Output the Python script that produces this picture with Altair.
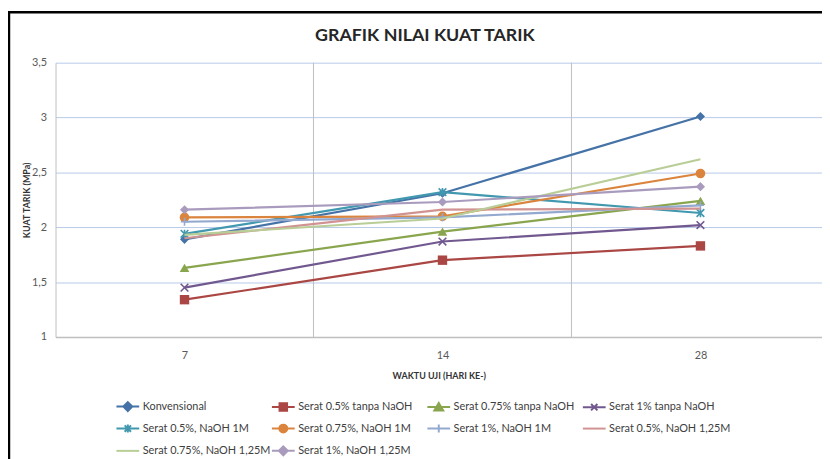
import json
import altair as alt
import pandas as pd

# ---------------- data ----------------
categories = ["7", "14", "28"]

series_names = [
    "Konvensional",
    "Serat 0.5% tanpa NaOH",
    "Serat 0.75% tanpa NaOH",
    "Serat 1% tanpa NaOH",
    "Serat 0.5%, NaOH 1M",
    "Serat 0.75%, NaOH 1M",
    "Serat 1%, NaOH 1M",
    "Serat 0.5%, NaOH 1,25M",
    "Serat 0.75%, NaOH 1,25M",
    "Serat 1%, NaOH 1,25M",
]

konvensional = [1.89, 2.31, 3.01]
serat_05_tanpa = [1.34, 1.70, 1.83]
serat_075_tanpa = [1.63, 1.96, 2.24]
serat_1_tanpa = [1.45, 1.87, 2.02]
serat_05_1m = [1.94, 2.32, 2.13]
serat_075_1m = [2.09, 2.10, 2.49]
serat_1_1m = [2.05, 2.09, 2.20]
serat_05_125m = [1.90, 2.16, 2.17]
serat_075_125m = [1.93, 2.08, 2.62]
serat_1_125m = [2.16, 2.23, 2.37]

series_values = [
    konvensional, serat_05_tanpa, serat_075_tanpa, serat_1_tanpa,
    serat_05_1m, serat_075_1m, serat_1_1m,
    serat_05_125m, serat_075_125m, serat_1_125m,
]

y_ticks = [1, 1.5, 2, 2.5, 3, 3.5]

# ---------------- styles ----------------
colors = ["#4572A7", "#AA4643", "#89A54E", "#71588F", "#4198AF",
          "#DB843D", "#93A9CF", "#D19392", "#B9CD96", "#A99BBD"]

X_PATH = "M-1,-1L1,1M-1,1L1,-1"
STAR_PATH = "M-1,-1L1,1M-1,1L1,-1M0,-1.1V1.1"
PLUS_PATH = "M-1,0H1M0,-1.1V1.1"

# (shape, filled, size) for the markers in the plot; None = no marker
markers = [
    ("diamond", True, 85),
    ("square", True, 90),
    ("triangle-up", True, 95),
    (X_PATH, False, 60),
    (STAR_PATH, False, 60),
    ("circle", True, 95),
    (PLUS_PATH, False, 55),
    None,
    None,
    ("diamond", True, 85),
]

LINE = "M-1.15,0H1.15"
legend_paths = [
    LINE + "M0,-0.45L0.45,0L0,0.45L-0.45,0Z",
    LINE + "M-0.38,-0.38H0.38V0.38H-0.38Z",
    LINE + "M0,-0.42L0.45,0.35L-0.45,0.35Z",
    LINE + "M-0.32,-0.32L0.32,0.32M-0.32,0.32L0.32,-0.32",
    LINE + "M-0.32,-0.32L0.32,0.32M-0.32,0.32L0.32,-0.32M0,-0.4V0.4",
    LINE + "M0.4,0A0.4,0.4 0 1,1 -0.4,0A0.4,0.4 0 1,1 0.4,0Z",
    LINE + "M0,-0.4V0.4",
    LINE,
    LINE,
    LINE + "M0,-0.45L0.45,0L0,0.45L-0.45,0Z",
]

# ---------------- tables ----------------
rows = []
for name, vals in zip(series_names, series_values):
    for i, v in enumerate(vals):
        rows.append({"series": name, "idx": i, "value": v})
df = pd.DataFrame(rows)

bounds = pd.DataFrame({"idx": [i + 0.5 for i in range(len(categories) - 1)]})

W, H = 774, 277
band = 260.5
x_domain = [-0.5, W / band - 0.5]
y_domain = [1, 3.5]

x_enc = alt.X(
    "idx:Q",
    scale=alt.Scale(domain=x_domain, nice=False, zero=False),
    axis=alt.Axis(
        values=list(range(len(categories))),
        labelExpr=json.dumps(categories) + "[datum.value]",
        title="WAKTU UJI (HARI KE-)",
        grid=False, ticks=False,
        domainColor="#BFBFBF", domainWidth=1.5,
        labelFontSize=11, labelColor="#595959", labelPadding=13,
        titleFontSize=9, titleFontWeight="bold", titleColor="#333333",
        titlePadding=11,
    ),
)
y_axis = alt.Axis(
    values=y_ticks,
    labelExpr="replace(format(datum.value, '~g'), '.', ',')",
    title="KUAT TARIK (MPa)",
    grid=True, gridColor="#B7C9E9", gridWidth=1,
    ticks=False,
    domainColor="#BFBFBF", domainWidth=1,
    labelFontSize=11, labelColor="#595959", labelPadding=9,
    titleFontSize=9, titleFontWeight="bold", titleColor="#333333",
    titlePadding=0,
)
y_scale = alt.Scale(domain=y_domain, nice=False, zero=False)
y_enc = alt.Y("value:Q", scale=y_scale, axis=y_axis)

vgrid = alt.Chart(bounds).mark_rule(color="#BFBFBF", strokeWidth=1).encode(x=x_enc)

series_layers = []
for name, col, mk in zip(series_names, colors, markers):
    base = alt.Chart(df).transform_filter(alt.datum.series == name)
    series_layers.append(
        base.mark_line(strokeWidth=2.2, color=col).encode(x=x_enc, y=y_enc)
    )
    if mk is not None:
        shape, filled, size = mk
        series_layers.append(
            base.mark_point(shape=shape, filled=filled, size=size, color=col,
                            opacity=1, strokeWidth=1.6)
            .encode(x=x_enc, y=y_enc)
        )

leg = alt.Legend(
    orient="none", legendX=62, legendY=336, columns=4, direction="horizontal",
    title=None,
    symbolSize=400, symbolStrokeWidth=2, symbolOpacity=1,
    labelOffset=4, columnPadding=-4, rowPadding=2.5, gridAlign="all",
    labelFont="Lato", labelFontSize=11, labelColor="#404040", labelLimit=300,
)
# legend-only layer: its points sit far outside the y domain and are clipped away
legend_layer = (
    alt.Chart(df)
    .transform_calculate(hidden="datum.value + 100")
    .mark_point(opacity=1, size=400, strokeWidth=2, clip=True)
    .encode(
        x=x_enc,
        y=alt.Y("hidden:Q", scale=y_scale, axis=y_axis),
        fill=alt.Fill("series:N", scale=alt.Scale(domain=series_names, range=colors), legend=leg),
        stroke=alt.Stroke("series:N", scale=alt.Scale(domain=series_names, range=colors), legend=leg),
        shape=alt.Shape("series:N", scale=alt.Scale(domain=series_names, range=legend_paths), legend=leg),
    )
)

dummy = pd.DataFrame({"a": [0]})
frame_top = alt.Chart(dummy).mark_rule(color="black", strokeWidth=2.5).encode(
    x=alt.value(-48), x2=alt.value(W + 10), y=alt.value(-51)
)
frame_left = alt.Chart(dummy).mark_rule(color="black", strokeWidth=2.5).encode(
    x=alt.value(-47), y=alt.value(-52), y2=alt.value(H + 140)
)

chart = (
    alt.layer(vgrid, *series_layers, legend_layer, frame_top, frame_left)
    .properties(
        width=W, height=H,
        title=alt.TitleParams(
            "GRAFIK NILAI KUAT TARIK", font="Lato", fontSize=18,
            fontWeight="bold", color="#262626", anchor="middle",
            dx=-14, dy=35, offset=0,
        ),
        autosize=alt.AutoSizeParams(type="none"),
        padding={"left": 48, "top": 53, "right": 0, "bottom": 121},
        background="white",
    )
    .configure_view(strokeWidth=0)
    .configure_axis(labelFont="Lato", titleFont="Lato")
)

chart.save("out.html", embed_options={"renderer": "svg", "actions": False})
